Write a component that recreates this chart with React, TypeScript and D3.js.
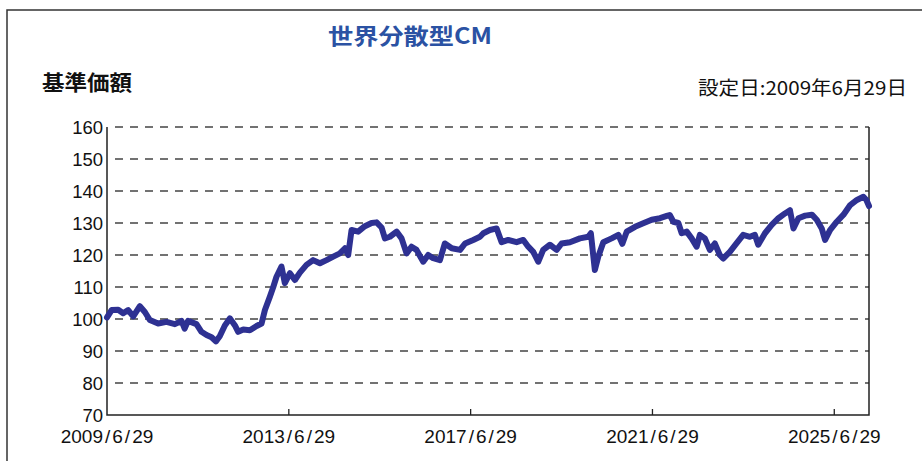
import React, { useEffect, useRef } from 'react'
import * as d3 from 'd3'

// 基準価額 (reading off the chart, roughly)
const dates = [
  '2009-06-29', '2009-08-05', '2009-09-27', '2009-11-06', '2009-12-16', '2010-01-26', '2010-03-20',
  '2010-04-29', '2010-06-08', '2010-08-14', '2010-10-20', '2010-12-26', '2011-02-18', '2011-03-15',
  '2011-04-11', '2011-06-18', '2011-07-28', '2011-09-07', '2011-10-17', '2011-11-21', '2011-12-22',
  '2012-02-01', '2012-03-13', '2012-04-22', '2012-05-18', '2012-06-28', '2012-08-20', '2012-10-13',
  '2012-11-22', '2012-12-19', '2013-01-28', '2013-02-24', '2013-03-22', '2013-05-01', '2013-05-28',
  '2013-07-08', '2013-08-17', '2013-09-26', '2013-11-18', '2014-01-10', '2014-03-06', '2014-04-28',
  '2014-06-21', '2014-08-13', '2014-09-23', '2014-10-19', '2014-11-15', '2015-01-07', '2015-03-02',
  '2015-04-25', '2015-06-04', '2015-07-14', '2015-08-10', '2015-09-19', '2015-11-12', '2015-12-22',
  '2016-01-31', '2016-03-11', '2016-04-20', '2016-06-13', '2016-07-23', '2016-09-01', '2016-10-25',
  '2016-12-04', '2017-01-28', '2017-04-05', '2017-05-15', '2017-07-20', '2017-09-12', '2017-10-09',
  '2017-12-01', '2018-01-24', '2018-03-05', '2018-04-27', '2018-07-03', '2018-08-26', '2018-10-05',
  '2018-11-14', '2018-12-24', '2019-02-02', '2019-03-28', '2019-05-21', '2019-06-30', '2019-09-05',
  '2019-11-24', '2020-01-30', '2020-02-20', '2020-03-23', '2020-04-20', '2020-05-30', '2020-08-05',
  '2020-09-28', '2020-10-30', '2020-12-04', '2021-02-09', '2021-04-16', '2021-06-23', '2021-08-29',
  '2021-10-22', '2021-11-15', '2021-12-14', '2022-01-23', '2022-02-19', '2022-03-31', '2022-05-10',
  '2022-06-19', '2022-07-15', '2022-08-24', '2022-10-03', '2022-11-12', '2022-12-22', '2023-01-18',
  '2023-03-13', '2023-05-05', '2023-06-28', '2023-08-21', '2023-09-30', '2023-10-27', '2023-12-20',
  '2024-02-12', '2024-04-06', '2024-05-29', '2024-07-08', '2024-08-05', '2024-09-14', '2024-11-07',
  '2024-12-31', '2025-02-08', '2025-03-20', '2025-04-16', '2025-05-26', '2025-07-19', '2025-09-11',
  '2025-11-04', '2025-12-28', '2026-02-18', '2026-03-14', '2026-04-04'
]
const navValues = [
  100.5, 102.8, 102.9, 101.8, 102.8, 100.8, 104.0,
  102.2, 99.7, 98.6, 99.1, 98.4, 99.4, 97.0,
  99.4, 98.4, 96.0, 95.0, 94.3, 93.0, 94.6,
  98.0, 100.2, 98.0, 96.0, 96.7, 96.5, 97.8,
  98.6, 102.8, 107.0, 110.0, 113.2, 116.4, 111.2,
  114.3, 112.2, 114.5, 116.9, 118.4, 117.4, 118.4,
  119.5, 120.5, 122.1, 120.0, 127.8, 127.3, 129.0,
  130.0, 130.2, 128.6, 125.2, 125.7, 127.3, 125.2,
  120.5, 122.6, 121.6, 117.9, 120.0, 119.0, 118.4,
  123.6, 122.1, 121.6, 123.6, 124.7, 125.7, 126.8,
  127.8, 128.3, 124.0, 124.7, 124.0, 124.7, 122.6,
  121.0, 117.9, 121.6, 123.2, 121.6, 123.6, 124.0,
  125.2, 125.7, 126.8, 115.3, 119.5, 124.0, 125.2,
  126.3, 123.5, 127.3, 128.8, 129.9, 131.0, 131.5,
  132.2, 132.5, 130.4, 130.0, 126.8, 127.3, 125.2,
  122.6, 126.3, 125.2, 121.6, 123.6, 120.0, 118.9,
  121.0, 123.6, 126.3, 125.7, 126.3, 123.2, 126.8,
  129.4, 131.5, 133.0, 134.0, 128.3, 131.5, 132.3,
  132.6, 131.0, 128.3, 124.7, 127.8, 130.4, 132.6,
  135.6, 137.2, 138.2, 137.2, 135.3
]
const yTicks = [70, 80, 90, 100, 110, 120, 130, 140, 150, 160]
const xTickDates = ['2009-06-29', '2013-06-29', '2017-06-29', '2021-06-29', '2025-06-29']

const title = '世界分散型CM'
const yLabel = '基準価額'
const startNote = '設定日:2009年6月29日'

export default function App() {
  const ref = useRef<SVGSVGElement>(null)

  useEffect(() => {
    const svg = d3.select(ref.current)
    svg.selectAll('*').remove()

    const width = 922, height = 461
    const left = 107, right = 869, top = 127, bottom = 415
    const parse = d3.timeParse('%Y-%m-%d')
    const data = dates.map((d, i) => ({ date: parse(d)!, value: navValues[i] }))

    const x = d3.scaleTime()
      .domain([parse(dates[0])!, parse(dates[dates.length - 1])!])
      .range([left, right])
    const y = d3.scaleLinear().domain([70, 160]).range([bottom, top])

    svg.attr('width', width).attr('height', height)
    svg.append('rect').attr('width', width).attr('height', height).attr('fill', '#fff')

    // outer frame
    svg.append('path')
      .attr('d', `M7,${height} V10 H${width}`)
      .attr('fill', 'none').attr('stroke', '#333').attr('stroke-width', 1.5)

    svg.append('text')
      .text(title)
      .attr('x', 328).attr('y', 44)
      .attr('textLength', 164).attr('lengthAdjust', 'spacingAndGlyphs')
      .style('font-family', '"Noto Sans CJK JP", sans-serif')
      .style('font-weight', 700).style('font-size', '22px')
      .style('fill', '#2b52a3')

    svg.append('text')
      .text(yLabel)
      .attr('x', 42).attr('y', 90)
      .attr('textLength', 90).attr('lengthAdjust', 'spacingAndGlyphs')
      .style('font-family', '"Noto Sans CJK JP", sans-serif')
      .style('font-weight', 700).style('font-size', '21px')
      .style('fill', '#111')

    svg.append('text')
      .text(startNote)
      .attr('x', 698).attr('y', 95)
      .attr('textLength', 209).attr('lengthAdjust', 'spacingAndGlyphs')
      .style('font-family', '"Noto Sans CJK JP", sans-serif')
      .style('font-size', '19px')
      .style('fill', '#111')

    // dashed grid
    svg.append('g')
      .selectAll('line')
      .data(yTicks.filter(t => t > 70))
      .enter().append('line')
      .attr('x1', left + 8).attr('x2', right)
      .attr('y1', d => y(d)).attr('y2', d => y(d))
      .attr('stroke', '#444').attr('stroke-width', 1.3)
      .attr('stroke-dasharray', '8,7')

    // plot frame
    svg.append('path')
      .attr('d', `M${left},${top} V${bottom} H${right} V${top}`)
      .attr('fill', 'none').attr('stroke', '#222').attr('stroke-width', 1.5)

    // y labels
    svg.append('g')
      .selectAll('text')
      .data(yTicks)
      .enter().append('text')
      .text(d => d)
      .attr('x', left - 4).attr('y', d => y(d))
      .attr('dy', '0.36em')
      .attr('text-anchor', 'end')
      .style('font-family', '"Liberation Sans", Arial, sans-serif')
      .style('font-size', '18.5px')
      .style('fill', '#111')

    // x ticks + labels
    const xt = svg.append('g')
      .selectAll('g')
      .data(xTickDates.map(d => parse(d)!))
      .enter().append('g')
      .attr('transform', d => `translate(${x(d)},0)`)
    xt.filter((d, i) => i > 0).append('line')
      .attr('y1', bottom).attr('y2', bottom - 6)
      .attr('stroke', '#222').attr('stroke-width', 1.3)
    const lbl = xt.append('text')
      .attr('y', 443)
      .attr('text-anchor', 'middle')
      .style('font-family', '"Liberation Sans", Arial, sans-serif')
      .style('font-size', '19px')
      .style('fill', '#111')
    lbl.each(function (d) {
      const t = d3.select(this)
      const parts = d3.timeFormat('%Y/%-m/%-d')(d).split('/')
      parts.forEach((p, i) => {
        if (i > 0) t.append('tspan').attr('dx', 2).text('/')
        t.append('tspan').attr('dx', i > 0 ? 2 : 0).text(p)
      })
    })

    // NAV line
    const line = d3.line<{ date: Date; value: number }>()
      .x(d => x(d.date))
      .y(d => y(d.value))
    svg.append('path')
      .datum(data)
      .attr('d', line)
      .attr('fill', 'none')
      .attr('stroke', '#2e3192')
      .attr('stroke-width', 6)
      .attr('stroke-linejoin', 'round')
      .attr('stroke-linecap', 'round')
  }, [])

  return <svg ref={ref} style={{ position: 'absolute', left: 0, top: 0 }} />
}
